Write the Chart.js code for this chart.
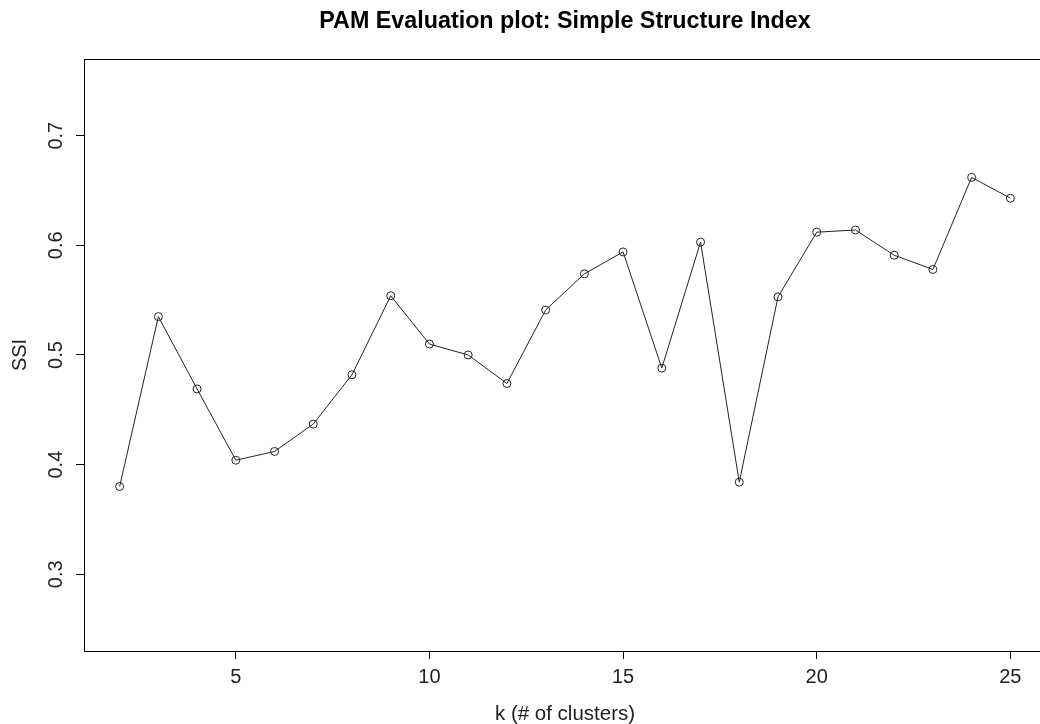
<!DOCTYPE html>
<html lang="en">
<head>
  <meta charset="UTF-8">
  <title>PAM Evaluation plot</title>
  <script src="https://cdn.jsdelivr.net/npm/chart.js"></script>
  <style>
    html, body { margin: 0; padding: 0; background: #fff; overflow: hidden; }
    #grafico { display: block; }
  </style>
</head>
<body>
  <!-- canvas a bit wider than the window: the right edge of the box is cut off like in the original -->
  <canvas id="grafico" width="1060" height="724"></canvas>

<script>
  // dados
  var k = [2, 3, 4, 5, 6, 7, 8, 9, 10, 11, 12, 13, 14, 15, 16, 17, 18, 19, 20, 21, 22, 23, 24, 25];
  var ssi = [0.380, 0.535, 0.469, 0.404, 0.412, 0.437, 0.482, 0.554, 0.510, 0.500, 0.474, 0.541,
             0.574, 0.594, 0.488, 0.603, 0.384, 0.553, 0.612, 0.614, 0.591, 0.578, 0.662, 0.643];
  var xTicks = [5, 10, 15, 20, 25];
  var yTicks = [0.3, 0.4, 0.5, 0.6, 0.7];
  var titulo = "PAM Evaluation plot: Simple Structure Index";
  var xTitulo = "k (# of clusters)";
  var yTitulo = "SSI";

  var fonte = "'Liberation Sans', Arial, sans-serif";

  // caixa em volta da area do grafico
  var caixa = {
    id: 'caixa',
    afterDraw: function (chart) {
      var a = chart.chartArea;
      var ctx = chart.ctx;
      ctx.save();
      ctx.strokeStyle = '#000';
      ctx.lineWidth = 1;
      ctx.strokeRect(Math.round(a.left) + 0.5, Math.round(a.top) + 0.5,
        Math.round(a.right - a.left), Math.round(a.bottom - a.top));
      ctx.restore();
    }
  };

  var pontos = k.map(function (v, i) { return { x: v, y: ssi[i] }; });

  var linha = document.getElementById('grafico').getContext('2d');
  var grafico = new Chart(linha, {
    type: 'line',
    data: {
      datasets: [{
        label: 'SSI',
        data: pontos,
        borderColor: '#222',
        borderWidth: 1,
        pointRadius: 4,
        pointBorderWidth: 1,
        pointBorderColor: '#222',
        pointBackgroundColor: 'rgba(0,0,0,0)',
        tension: 0,
        fill: false
      }]
    },
    plugins: [caixa],
    options: {
      responsive: false,
      animation: false,
      devicePixelRatio: 1,
      layout: { padding: { left: 0, right: 14, top: 0, bottom: 0 } },
      plugins: {
        legend: { display: false },
        tooltip: { enabled: false },
        title: {
          display: true,
          text: titulo,
          fullSize: false,
          color: '#000',
          font: { family: fonte, size: 23.3, weight: 'bold', lineHeight: 1.2 },
          padding: { top: 8, bottom: 23 }
        }
      },
      scales: {
        x: {
          type: 'linear',
          min: 1.08,
          max: 25.92,
          offset: false,
          afterBuildTicks: function (s) { s.ticks = xTicks.map(function (v) { return { value: v }; }); },
          afterFit: function (s) { s.height = 73; },
          border: { display: false },
          grid: { drawOnChartArea: false, drawTicks: true, tickLength: 8, tickColor: '#000', lineWidth: 1 },
          ticks: {
            color: '#222',
            padding: 6,
            maxRotation: 0,
            font: { family: fonte, size: 20 },
            callback: function (v) { return String(v); }
          },
          title: {
            display: true,
            text: xTitulo,
            color: '#222',
            font: { family: fonte, size: 20.5, lineHeight: 1 },
            padding: { top: 0, bottom: -1 }
          }
        },
        y: {
          type: 'linear',
          min: 0.23,
          max: 0.77,
          afterBuildTicks: function (s) { s.ticks = yTicks.map(function (v) { return { value: v }; }); },
          afterFit: function (s) { s.width = 84; },
          border: { display: false },
          grid: { drawOnChartArea: false, drawTicks: true, tickLength: 8, tickColor: '#000', lineWidth: 1 },
          ticks: {
            color: '#222',
            padding: 6,
            minRotation: 90,
            maxRotation: 90,
            crossAlign: 'center',
            font: { family: fonte, size: 20 },
            callback: function (v) { return v.toFixed(1); }
          },
          title: {
            display: true,
            text: yTitulo,
            color: '#222',
            font: { family: fonte, size: 20, lineHeight: 1.2 },
            padding: { top: 8, bottom: 0 }
          }
        }
      }
    }
  });
</script>
</body>
</html>
